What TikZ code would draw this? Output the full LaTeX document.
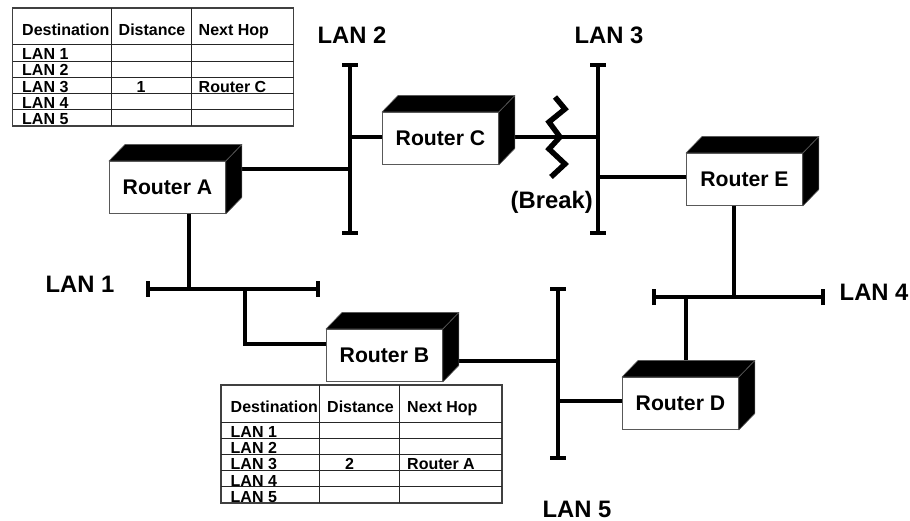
\documentclass[tikz,border=0pt]{standalone}
\usepackage{fontspec}
\setmainfont{Liberation Sans}
\usetikzlibrary{calc}
\tikzset{
  frontbox/.style={draw=black!65,line width=0.9pt,fill=white,anchor=north west,inner sep=0pt,
    minimum width=116pt,minimum height=52pt,font=\fontsize{21.2}{25}\selectfont\bfseries},
  blackface/.style={fill=black,draw=black!65,line width=0.6pt,line join=round},
  wire/.style={line width=4pt,draw=black},
  buscap/.style={line width=4pt,draw=black},
  zig/.style={line width=5.4pt,draw=black,line join=miter},
  biglabel/.style={anchor=base west,inner sep=0pt,font=\fontsize{23.8}{27}\selectfont\bfseries},
  celltext/.style={anchor=base west,inner sep=0pt,font=\fontsize{16}{18}\selectfont\bfseries},
  grid/.style={draw=black!85,line width=1pt},
  gridout/.style={draw=black!75,line width=1.4pt}
}
% router: name, x, y, text
\newcommand{\routerbox}[4]{%
  \node[frontbox] (#1) at (#2,#3) {#4};
  \fill[blackface] (#1.north west) -- ++(16,-16.5) -- ($(#1.north east)+(16,-16.5)$) -- (#1.north east) -- cycle;
  \fill[blackface] (#1.north east) -- ++(16,-16.5) -- ($(#1.south east)+(16,-16.5)$) -- (#1.south east) -- cycle;
}
% bus with end caps
\newcommand{\vbus}[4]{%
  \coordinate (#1a) at (#2,#3);
  \coordinate (#1b) at (#2,#4);
  \draw[wire] (#1a) -- (#1b);
  \draw[buscap] ([xshift=-8pt]#1a) -- ([xshift=8pt]#1a);
  \draw[buscap] ([xshift=-8pt]#1b) -- ([xshift=8pt]#1b);
}
\newcommand{\hbus}[4]{%
  \coordinate (#1a) at (#3,#2);
  \coordinate (#1b) at (#4,#2);
  \draw[wire] (#1a) -- (#1b);
  \draw[buscap] ([yshift=-8pt]#1a) -- ([yshift=8pt]#1a);
  \draw[buscap] ([yshift=-8pt]#1b) -- ([yshift=8pt]#1b);
}
% table: prefix, x, y, distance, hop
\newcommand{\rtable}[5]{%
  \begin{scope}[shift={(#2,#3)}]
    \draw[gridout] (0,0) rectangle (281,118);
    \draw[grid] (98.5,0) -- (98.5,118);
    \draw[grid] (178.5,0) -- (178.5,118);
    \foreach \yy in {37,53.5,69.5,85.5,101.5} \draw[grid] (0,\yy) -- (281,\yy);
    \node[celltext] (#1h1) at (9.5,27.5) {Destination};
    \node[celltext] (#1h2) at (106,27.5) {Distance};
    \node[celltext] (#1h3) at (186,27.5) {Next Hop};
    \node[celltext] (#1r1) at (9.5,52) {LAN 1};
    \node[celltext] (#1r2) at (9.5,68) {LAN 2};
    \node[celltext] (#1r3) at (9.5,84.5) {LAN 3};
    \node[celltext] (#1r4) at (9.5,101) {LAN 4};
    \node[celltext] (#1r5) at (9.5,117) {LAN 5};
    \node[celltext] (#1d) at (124,84.5) {#4};
    \node[celltext] (#1n) at (186,84.5) {#5};
  \end{scope}
}
\begin{document}
\begin{tikzpicture}[x=1pt,y=-1pt]
\useasboundingbox (0,0) rectangle (910,521);

% buses
\vbus{Ltwo}{350}{65}{233}
\vbus{Lthree}{598}{65}{233}
\vbus{Lfive}{558}{289}{458}
\hbus{Lone}{289}{148}{318}
\hbus{Lfour}{297}{654}{823}

% connection points
\coordinate (aR) at (240,169);
\coordinate (aB) at (189,212);
\coordinate (lb) at (245,289);
\coordinate (bL) at (326,344);
\coordinate (bR) at (457,361);
\coordinate (cL) at (382,137);
\coordinate (cR) at (513,137);
\coordinate (dL) at (622,401);
\coordinate (dT) at (686,362);
\coordinate (eL) at (686,177);
\coordinate (eB) at (734,204);

% connectors
\draw[wire] (aR) -- (aR -| Ltwoa);
\draw[wire] (aB) -- (aB |- Lonea);
\draw[wire,line join=miter] (lb) |- (bL);
\draw[wire] (bR) -- (bR -| Lfivea);
\draw[wire] (cL) -- (cL -| Ltwoa);
\draw[wire] (cR) -- (cR -| Lthreea);
\draw[wire] (eL) -- (eL -| Lthreea);
\draw[wire] (eB) -- (eB |- Lfoura);
\draw[wire] (dT) -- (dT |- Lfoura);
\draw[wire] (dL) -- (dL -| Lfivea);

% routers
\routerbox{rA}{109}{161}{Router A}
\routerbox{rC}{382}{112}{Router C}
\routerbox{rB}{326}{329}{Router B}
\routerbox{rE}{686}{153}{Router E}
\routerbox{rD}{622}{377}{Router D}

% break
\coordinate (z1) at (555,97);
\coordinate (z2) at (565,109);
\coordinate (z3) at (549,122);
\coordinate (z4) at (560,137);
\coordinate (z5) at (549,149);
\coordinate (z6) at (565,164);
\coordinate (z7) at (551,177);
\draw[zig] (z1) -- (z2) -- (z3) -- (z4) -- (z5) -- (z6) -- (z7);

% labels
\node[biglabel] (t2) at (317.5,44) {LAN 2};
\node[biglabel] (t3) at (574.5,44) {LAN 3};
\node[biglabel] (t1) at (45.5,293) {LAN 1};
\node[biglabel] (t4) at (839.5,301) {LAN 4};
\node[biglabel] (t5) at (542.5,517) {LAN 5};
\node[biglabel] (tb) at (510.5,209) {(Break)};

% tables
\rtable{p}{12.5}{8}{1}{Router C}
\rtable{q}{221}{385}{2}{Router A}
\end{tikzpicture}
\end{document}
